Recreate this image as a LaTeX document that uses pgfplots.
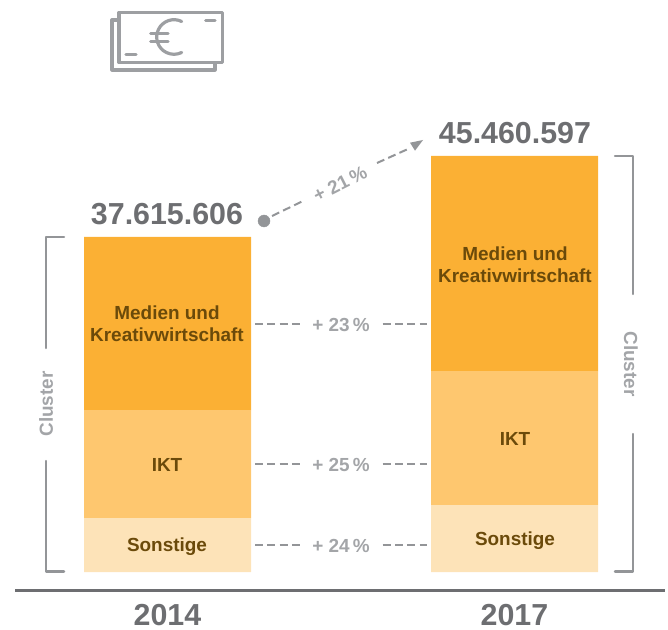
\documentclass[border=0pt]{standalone}
\usepackage{pgfplots}
\pgfplotsset{compat=1.18}
\usepackage{fontspec}
\setmainfont{Liberation Sans}
\definecolor{barA}{HTML}{FBB034}
\definecolor{barB}{HTML}{FEC76F}
\definecolor{barC}{HTML}{FDE3B8}
\definecolor{barText}{HTML}{6B4A0A}
\definecolor{numGray}{HTML}{6D6E71}
\definecolor{softGray}{HTML}{A3A5A8}
\definecolor{lineGray}{HTML}{939598}
\definecolor{iconGray}{HTML}{9D9FA2}
\tikzset{
  lab/.style={font=\fontsize{19}{22.5}\selectfont\bfseries, text=barText, align=center, inner sep=0pt},
  pct/.style={font=\fontsize{19}{19}\selectfont\bfseries, text=softGray, inner sep=0pt},
  tot/.style={font=\fontsize{30.5}{31}\selectfont\bfseries, text=numGray, inner sep=0pt},
  dashln/.style={draw=lineGray, line width=2bp, dash pattern=on 8bp off 4.3bp},
  brk/.style={draw=lineGray, line width=2.5bp, line cap=round, line join=round},
  icon/.style={draw=iconGray, line width=3.2bp, line cap=round, line join=round},
}
\pgfplotsset{px/.style={
  scale only axis,
  width=668bp, height=628bp,
  xmin=0, xmax=668, ymin=-56, ymax=572,
  clip=false,
}}
\begin{document}
\begin{tikzpicture}
\begin{axis}[
  px,
  ybar stacked,
  bar width=167,
  axis line style={draw=none},
  tick style={draw=none},
  ytick=\empty,
  xtick={167.5,514.5},
  xticklabels={2014,2017},
  xticklabel style={font=\fontsize{30.5}{31}\selectfont\bfseries, text=numGray, yshift=27bp},
]
% segments, bottom to top (height read in px from the baseline)
\addplot[fill=barC, draw=none] coordinates {(167.5,54) (514.5,67)};
\addplot[fill=barB, draw=none] coordinates {(167.5,108) (514.5,134)};
\addplot[fill=barA, draw=none] coordinates {(167.5,173) (514.5,215)};
\end{axis}

% second axis on top: stacked bars come out last, labels would end up under them
\begin{axis}[px, hide axis]
\addplot[numGray, line width=3bp] coordinates {(15,-18) (665,-18)};
\addplot[lineGray, only marks, mark=*, mark size=6bp, mark options={draw=lineGray, fill=lineGray}] coordinates {(264,351)};

\node[lab] at (axis cs:167,248.5) {Medien und\\Kreativwirtschaft};
\node[lab] at (axis cs:167,107) {IKT};
\node[lab] at (axis cs:167,25.5) {Sonstige};
\node[lab] at (axis cs:515,307.5) {Medien und\\Kreativwirtschaft};
\node[lab] at (axis cs:515,133) {IKT};
\node[lab] at (axis cs:515,31.5) {Sonstige};

% totals
\node[tot] at (axis cs:167,358) {37.615.606};
\node[tot] at (axis cs:515,439) {45.460.597};

% dashed connectors
\draw[dashln] (axis cs:255,248) -- (axis cs:299.5,248);
\draw[dashln] (axis cs:382.7,248) -- (axis cs:427.2,248);
\draw[dashln] (axis cs:255,108) -- (axis cs:299.5,108);
\draw[dashln] (axis cs:382.7,108) -- (axis cs:427.2,108);
\draw[dashln] (axis cs:255,27) -- (axis cs:299.5,27);
\draw[dashln] (axis cs:382.7,27) -- (axis cs:427.2,27);
\node[pct] at (axis cs:341,247.5) {+ 23\,\%};
\node[pct] at (axis cs:341,107.5) {+ 25\,\%};
\node[pct] at (axis cs:341,26.5) {+ 24\,\%};

% growth arrow
\draw[dashln] (axis cs:272,356) -- (axis cs:303,371);
\draw[dashln] (axis cs:377,409) -- (axis cs:408,423);
\fill[lineGray] (axis cs:423,432) -- (axis cs:410,429.3) -- (axis cs:415,421.3) -- cycle;
\node[pct, rotate=27] at (axis cs:340,388) {+ 21\,\%};

% cluster brackets
\draw[brk] (axis cs:64,335) -- (axis cs:46,335) -- (axis cs:46,224);
\draw[brk] (axis cs:46,111) -- (axis cs:46,0.5) -- (axis cs:64,0.5);
\node[pct, rotate=90] at (axis cs:46,168) {Cluster};
\draw[brk] (axis cs:615,416) -- (axis cs:633,416) -- (axis cs:633,278);
\draw[brk] (axis cs:633,138) -- (axis cs:633,0.5) -- (axis cs:615,0.5);
\node[pct, rotate=-90] at (axis cs:631,208) {Cluster};

% banknote icon
\draw[icon] (axis cs:119,509.3) rectangle (axis cs:222.7,559.5);
\draw[icon] (axis cs:119,552) -- (axis cs:112,552) -- (axis cs:112,502) -- (axis cs:215,502) -- (axis cs:215,509.3);
\draw[icon] (axis cs:205.7,551.5) -- (axis cs:215,551.5);
\draw[icon] (axis cs:126,517.5) -- (axis cs:136,517.5);
\draw[icon] (axis cs:150.7,538.7) -- (axis cs:168,538.7);
\draw[icon] (axis cs:150.7,530.3) -- (axis cs:168,530.3);
\draw[icon] (axis cs:181.7,550.5) arc[start angle=63.6, end angle=296.4, radius=17.3bp];
\end{axis}
\end{tikzpicture}
\end{document}
